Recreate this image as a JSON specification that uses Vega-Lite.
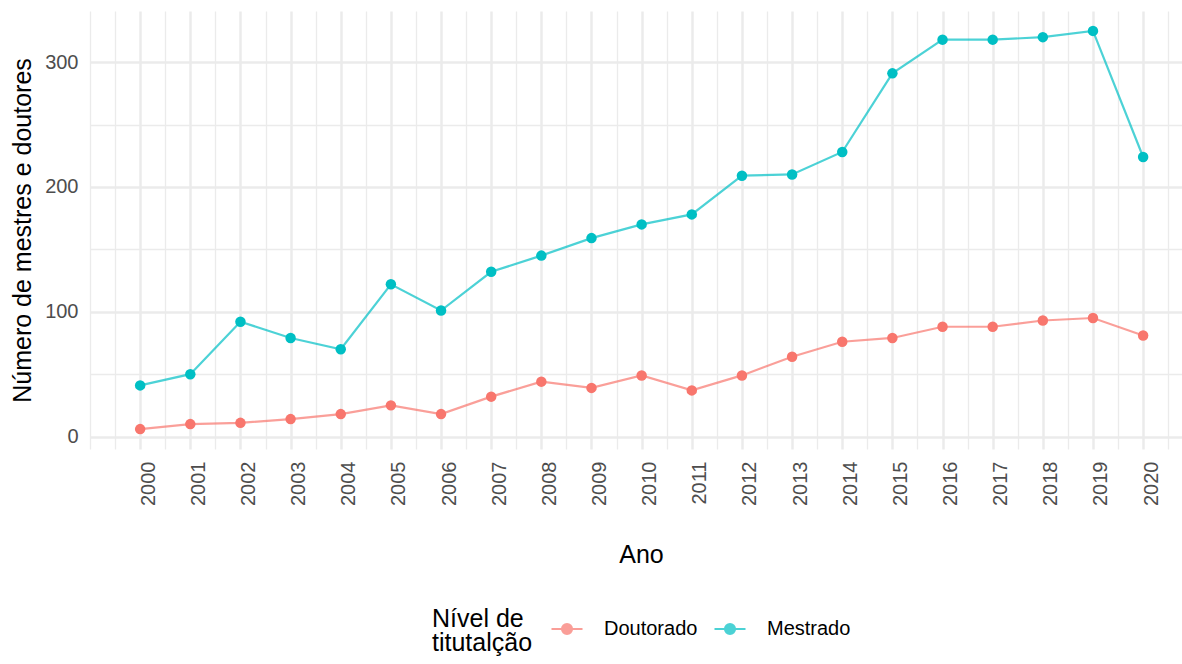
{
  "$schema": "https://vega.github.io/schema/vega-lite/v6.json",
  "width": 1092,
  "height": 438,
  "autosize": {"type": "none"},
  "padding": {"left": 90, "top": 11, "right": 0, "bottom": 215},
  "background": "white",
  "config": {
    "font": "Liberation Sans",
    "view": {"stroke": null}
  },
  "data": {
    "values": [
      {"ano": 2000, "nivel": "Doutorado", "n": 6},
      {"ano": 2001, "nivel": "Doutorado", "n": 10},
      {"ano": 2002, "nivel": "Doutorado", "n": 11},
      {"ano": 2003, "nivel": "Doutorado", "n": 14},
      {"ano": 2004, "nivel": "Doutorado", "n": 18},
      {"ano": 2005, "nivel": "Doutorado", "n": 25},
      {"ano": 2006, "nivel": "Doutorado", "n": 18},
      {"ano": 2007, "nivel": "Doutorado", "n": 32},
      {"ano": 2008, "nivel": "Doutorado", "n": 44},
      {"ano": 2009, "nivel": "Doutorado", "n": 39},
      {"ano": 2010, "nivel": "Doutorado", "n": 49},
      {"ano": 2011, "nivel": "Doutorado", "n": 37},
      {"ano": 2012, "nivel": "Doutorado", "n": 49},
      {"ano": 2013, "nivel": "Doutorado", "n": 64},
      {"ano": 2014, "nivel": "Doutorado", "n": 76},
      {"ano": 2015, "nivel": "Doutorado", "n": 79},
      {"ano": 2016, "nivel": "Doutorado", "n": 88},
      {"ano": 2017, "nivel": "Doutorado", "n": 88},
      {"ano": 2018, "nivel": "Doutorado", "n": 93},
      {"ano": 2019, "nivel": "Doutorado", "n": 95},
      {"ano": 2020, "nivel": "Doutorado", "n": 81},
      {"ano": 2000, "nivel": "Mestrado", "n": 41},
      {"ano": 2001, "nivel": "Mestrado", "n": 50},
      {"ano": 2002, "nivel": "Mestrado", "n": 92},
      {"ano": 2003, "nivel": "Mestrado", "n": 79},
      {"ano": 2004, "nivel": "Mestrado", "n": 70},
      {"ano": 2005, "nivel": "Mestrado", "n": 122},
      {"ano": 2006, "nivel": "Mestrado", "n": 101},
      {"ano": 2007, "nivel": "Mestrado", "n": 132},
      {"ano": 2008, "nivel": "Mestrado", "n": 145},
      {"ano": 2009, "nivel": "Mestrado", "n": 159},
      {"ano": 2010, "nivel": "Mestrado", "n": 170},
      {"ano": 2011, "nivel": "Mestrado", "n": 178},
      {"ano": 2012, "nivel": "Mestrado", "n": 209},
      {"ano": 2013, "nivel": "Mestrado", "n": 210},
      {"ano": 2014, "nivel": "Mestrado", "n": 228},
      {"ano": 2015, "nivel": "Mestrado", "n": 291},
      {"ano": 2016, "nivel": "Mestrado", "n": 318},
      {"ano": 2017, "nivel": "Mestrado", "n": 318},
      {"ano": 2018, "nivel": "Mestrado", "n": 320},
      {"ano": 2019, "nivel": "Mestrado", "n": 325},
      {"ano": 2020, "nivel": "Mestrado", "n": 224}
    ]
  },
  "layer": [
    {
      "mark": {"type": "line", "strokeWidth": 2.2, "opacity": 0.7},
      "encoding": {
        "x": {
          "field": "ano", "type": "quantitative",
          "scale": {"domain": [1999, 2020.775], "nice": false, "zero": false},
          "axis": {
            "orient": "bottom",
            "values": [1999, 1999.5, 2000.5, 2001.5, 2002.5, 2003.5, 2004.5, 2005.5, 2006.5, 2007.5, 2008.5, 2009.5, 2010.5, 2011.5, 2012.5, 2013.5, 2014.5, 2015.5, 2016.5, 2017.5, 2018.5, 2019.5, 2020.5],
            "grid": true, "gridColor": "#EBEBEB", "gridWidth": 1.3,
            "labels": false, "ticks": false, "domain": false, "title": null
          }
        },
        "y": {
          "field": "n", "type": "quantitative",
          "scale": {"domain": [-9.95, 340.95], "nice": false, "zero": false},
          "axis": {
            "orient": "left",
            "values": [50, 150, 250],
            "grid": true, "gridColor": "#EBEBEB", "gridWidth": 1.3,
            "labels": false, "ticks": false, "domain": false, "title": null
          }
        },
        "color": {
          "field": "nivel", "type": "nominal",
          "scale": {"domain": ["Doutorado", "Mestrado"], "range": ["#F8766D", "#00BFC4"]},
          "legend": {
            "title": ["Nível de", "titutalção"],
            "orient": "none", "legendX": 342, "legendY": 611,
            "direction": "horizontal", "titleOrient": "left",
            "titleFontSize": 25, "titleFontWeight": "normal", "titleColor": "black",
            "titleLineHeight": 24, "titlePadding": 17, "titleLimit": 400,
            "labelFontSize": 20, "labelColor": "black", "labelOffset": 20, "labelBaseline": "bottom",
            "columnPadding": 12, "padding": 0,
            "symbolType": "M-1,-0.645H1M0.32,-0.645A0.32,0.32,0,1,1,-0.32,-0.645A0.32,0.32,0,1,1,0.32,-0.645Z",
            "symbolSize": 961, "symbolStrokeWidth": 2.2
          }
        }
      }
    },
    {
      "mark": {"type": "point", "filled": true, "size": 110, "opacity": 1},
      "encoding": {
        "x": {
          "field": "ano", "type": "quantitative",
          "scale": {"domain": [1999, 2020.775], "nice": false, "zero": false},
          "axis": {
            "orient": "bottom",
            "values": [2000, 2001, 2002, 2003, 2004, 2005, 2006, 2007, 2008, 2009, 2010, 2011, 2012, 2013, 2014, 2015, 2016, 2017, 2018, 2019, 2020],
            "format": "d",
            "grid": true, "gridColor": "#EBEBEB", "gridWidth": 2.5,
            "ticks": false, "tickSize": 0, "domain": false,
            "labelAngle": 270, "labelAlign": "right", "labelBaseline": "middle",
            "labelPadding": 12, "labelOffset": 8, "labelFontSize": 20, "labelColor": "#4D4D4D",
            "labelOverlap": false, "labelFlush": false,
            "title": "Ano", "titleFontSize": 25, "titleFontWeight": "normal", "titleColor": "black",
            "titleX": 551, "titleY": 113, "titleBaseline": "alphabetic", "titleAlign": "center"
          }
        },
        "y": {
          "field": "n", "type": "quantitative",
          "scale": {"domain": [-9.95, 340.95], "nice": false, "zero": false},
          "axis": {
            "orient": "left",
            "values": [0, 100, 200, 300],
            "grid": true, "gridColor": "#EBEBEB", "gridWidth": 2.5,
            "ticks": false, "tickSize": 0, "domain": false,
            "labelPadding": 12, "labelFontSize": 20, "labelColor": "#4D4D4D",
            "labelOverlap": false, "labelFlush": false,
            "title": "Número de mestres e doutores", "titleFontSize": 25, "titleFontWeight": "normal", "titleColor": "black",
            "titleX": -60, "titleY": 219, "titleBaseline": "alphabetic", "titleAlign": "center", "titleAngle": 270
          }
        },
        "color": {
          "field": "nivel", "type": "nominal",
          "scale": {"domain": ["Doutorado", "Mestrado"], "range": ["#F8766D", "#00BFC4"]},
          "legend": {
            "title": ["Nível de", "titutalção"],
            "orient": "none", "legendX": 342, "legendY": 611,
            "direction": "horizontal", "titleOrient": "left",
            "titleFontSize": 25, "titleFontWeight": "normal", "titleColor": "black",
            "titleLineHeight": 24, "titlePadding": 17, "titleLimit": 400,
            "labelFontSize": 20, "labelColor": "black", "labelOffset": 20, "labelBaseline": "bottom",
            "columnPadding": 12, "padding": 0,
            "symbolType": "M-1,-0.645H1M0.32,-0.645A0.32,0.32,0,1,1,-0.32,-0.645A0.32,0.32,0,1,1,0.32,-0.645Z",
            "symbolSize": 961, "symbolStrokeWidth": 2.2
          }
        }
      }
    }
  ],
  "resolve": {"axis": {"x": "independent", "y": "independent"}}
}
